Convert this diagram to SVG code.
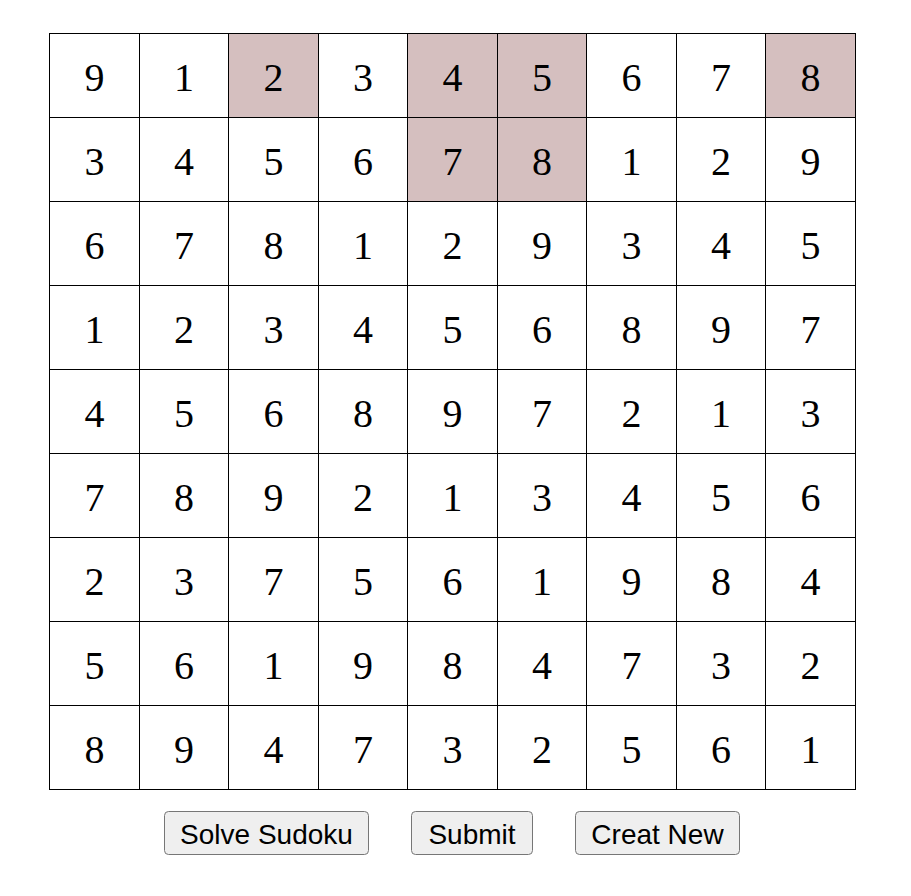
<svg xmlns="http://www.w3.org/2000/svg" width="911" height="896" viewBox="0 0 911 896">
<style>
.c{fill:#ffffff;stroke:#000000;stroke-width:1}
.h{fill:#d5bfbf;stroke:#000000;stroke-width:1}
.n{font-family:"Liberation Serif","Times New Roman",serif;font-size:40px;fill:#000000;text-anchor:middle}
.b{fill:#efefef;stroke:#767676;stroke-width:1}
.bt{font-family:"Liberation Sans",Arial,sans-serif;font-size:28px;fill:#000000;text-anchor:middle}
</style>
<rect width="911" height="896" fill="#ffffff"/>
<g id="grid">
<g id="r0">
<g id="c0-0"><rect class="c" x="49.5" y="33.5" width="90" height="84"/><text class="n" x="94.5" y="90.5">9</text></g>
<g id="c0-1"><rect class="c" x="139.5" y="33.5" width="89" height="84"/><text class="n" x="184" y="90.5">1</text></g>
<g id="c0-2"><rect class="h" x="228.5" y="33.5" width="90" height="84"/><text class="n" x="273.5" y="90.5">2</text></g>
<g id="c0-3"><rect class="c" x="318.5" y="33.5" width="89" height="84"/><text class="n" x="363" y="90.5">3</text></g>
<g id="c0-4"><rect class="h" x="407.5" y="33.5" width="90" height="84"/><text class="n" x="452.5" y="90.5">4</text></g>
<g id="c0-5"><rect class="h" x="497.5" y="33.5" width="89" height="84"/><text class="n" x="542" y="90.5">5</text></g>
<g id="c0-6"><rect class="c" x="586.5" y="33.5" width="90" height="84"/><text class="n" x="631.5" y="90.5">6</text></g>
<g id="c0-7"><rect class="c" x="676.5" y="33.5" width="89" height="84"/><text class="n" x="721" y="90.5">7</text></g>
<g id="c0-8"><rect class="h" x="765.5" y="33.5" width="90" height="84"/><text class="n" x="810.5" y="90.5">8</text></g>
</g>
<g id="r1">
<g id="c1-0"><rect class="c" x="49.5" y="117.5" width="90" height="84"/><text class="n" x="94.5" y="174.5">3</text></g>
<g id="c1-1"><rect class="c" x="139.5" y="117.5" width="89" height="84"/><text class="n" x="184" y="174.5">4</text></g>
<g id="c1-2"><rect class="c" x="228.5" y="117.5" width="90" height="84"/><text class="n" x="273.5" y="174.5">5</text></g>
<g id="c1-3"><rect class="c" x="318.5" y="117.5" width="89" height="84"/><text class="n" x="363" y="174.5">6</text></g>
<g id="c1-4"><rect class="h" x="407.5" y="117.5" width="90" height="84"/><text class="n" x="452.5" y="174.5">7</text></g>
<g id="c1-5"><rect class="h" x="497.5" y="117.5" width="89" height="84"/><text class="n" x="542" y="174.5">8</text></g>
<g id="c1-6"><rect class="c" x="586.5" y="117.5" width="90" height="84"/><text class="n" x="631.5" y="174.5">1</text></g>
<g id="c1-7"><rect class="c" x="676.5" y="117.5" width="89" height="84"/><text class="n" x="721" y="174.5">2</text></g>
<g id="c1-8"><rect class="c" x="765.5" y="117.5" width="90" height="84"/><text class="n" x="810.5" y="174.5">9</text></g>
</g>
<g id="r2">
<g id="c2-0"><rect class="c" x="49.5" y="201.5" width="90" height="84"/><text class="n" x="94.5" y="258.5">6</text></g>
<g id="c2-1"><rect class="c" x="139.5" y="201.5" width="89" height="84"/><text class="n" x="184" y="258.5">7</text></g>
<g id="c2-2"><rect class="c" x="228.5" y="201.5" width="90" height="84"/><text class="n" x="273.5" y="258.5">8</text></g>
<g id="c2-3"><rect class="c" x="318.5" y="201.5" width="89" height="84"/><text class="n" x="363" y="258.5">1</text></g>
<g id="c2-4"><rect class="c" x="407.5" y="201.5" width="90" height="84"/><text class="n" x="452.5" y="258.5">2</text></g>
<g id="c2-5"><rect class="c" x="497.5" y="201.5" width="89" height="84"/><text class="n" x="542" y="258.5">9</text></g>
<g id="c2-6"><rect class="c" x="586.5" y="201.5" width="90" height="84"/><text class="n" x="631.5" y="258.5">3</text></g>
<g id="c2-7"><rect class="c" x="676.5" y="201.5" width="89" height="84"/><text class="n" x="721" y="258.5">4</text></g>
<g id="c2-8"><rect class="c" x="765.5" y="201.5" width="90" height="84"/><text class="n" x="810.5" y="258.5">5</text></g>
</g>
<g id="r3">
<g id="c3-0"><rect class="c" x="49.5" y="285.5" width="90" height="84"/><text class="n" x="94.5" y="342.5">1</text></g>
<g id="c3-1"><rect class="c" x="139.5" y="285.5" width="89" height="84"/><text class="n" x="184" y="342.5">2</text></g>
<g id="c3-2"><rect class="c" x="228.5" y="285.5" width="90" height="84"/><text class="n" x="273.5" y="342.5">3</text></g>
<g id="c3-3"><rect class="c" x="318.5" y="285.5" width="89" height="84"/><text class="n" x="363" y="342.5">4</text></g>
<g id="c3-4"><rect class="c" x="407.5" y="285.5" width="90" height="84"/><text class="n" x="452.5" y="342.5">5</text></g>
<g id="c3-5"><rect class="c" x="497.5" y="285.5" width="89" height="84"/><text class="n" x="542" y="342.5">6</text></g>
<g id="c3-6"><rect class="c" x="586.5" y="285.5" width="90" height="84"/><text class="n" x="631.5" y="342.5">8</text></g>
<g id="c3-7"><rect class="c" x="676.5" y="285.5" width="89" height="84"/><text class="n" x="721" y="342.5">9</text></g>
<g id="c3-8"><rect class="c" x="765.5" y="285.5" width="90" height="84"/><text class="n" x="810.5" y="342.5">7</text></g>
</g>
<g id="r4">
<g id="c4-0"><rect class="c" x="49.5" y="369.5" width="90" height="84"/><text class="n" x="94.5" y="426.5">4</text></g>
<g id="c4-1"><rect class="c" x="139.5" y="369.5" width="89" height="84"/><text class="n" x="184" y="426.5">5</text></g>
<g id="c4-2"><rect class="c" x="228.5" y="369.5" width="90" height="84"/><text class="n" x="273.5" y="426.5">6</text></g>
<g id="c4-3"><rect class="c" x="318.5" y="369.5" width="89" height="84"/><text class="n" x="363" y="426.5">8</text></g>
<g id="c4-4"><rect class="c" x="407.5" y="369.5" width="90" height="84"/><text class="n" x="452.5" y="426.5">9</text></g>
<g id="c4-5"><rect class="c" x="497.5" y="369.5" width="89" height="84"/><text class="n" x="542" y="426.5">7</text></g>
<g id="c4-6"><rect class="c" x="586.5" y="369.5" width="90" height="84"/><text class="n" x="631.5" y="426.5">2</text></g>
<g id="c4-7"><rect class="c" x="676.5" y="369.5" width="89" height="84"/><text class="n" x="721" y="426.5">1</text></g>
<g id="c4-8"><rect class="c" x="765.5" y="369.5" width="90" height="84"/><text class="n" x="810.5" y="426.5">3</text></g>
</g>
<g id="r5">
<g id="c5-0"><rect class="c" x="49.5" y="453.5" width="90" height="84"/><text class="n" x="94.5" y="510.5">7</text></g>
<g id="c5-1"><rect class="c" x="139.5" y="453.5" width="89" height="84"/><text class="n" x="184" y="510.5">8</text></g>
<g id="c5-2"><rect class="c" x="228.5" y="453.5" width="90" height="84"/><text class="n" x="273.5" y="510.5">9</text></g>
<g id="c5-3"><rect class="c" x="318.5" y="453.5" width="89" height="84"/><text class="n" x="363" y="510.5">2</text></g>
<g id="c5-4"><rect class="c" x="407.5" y="453.5" width="90" height="84"/><text class="n" x="452.5" y="510.5">1</text></g>
<g id="c5-5"><rect class="c" x="497.5" y="453.5" width="89" height="84"/><text class="n" x="542" y="510.5">3</text></g>
<g id="c5-6"><rect class="c" x="586.5" y="453.5" width="90" height="84"/><text class="n" x="631.5" y="510.5">4</text></g>
<g id="c5-7"><rect class="c" x="676.5" y="453.5" width="89" height="84"/><text class="n" x="721" y="510.5">5</text></g>
<g id="c5-8"><rect class="c" x="765.5" y="453.5" width="90" height="84"/><text class="n" x="810.5" y="510.5">6</text></g>
</g>
<g id="r6">
<g id="c6-0"><rect class="c" x="49.5" y="537.5" width="90" height="84"/><text class="n" x="94.5" y="594.5">2</text></g>
<g id="c6-1"><rect class="c" x="139.5" y="537.5" width="89" height="84"/><text class="n" x="184" y="594.5">3</text></g>
<g id="c6-2"><rect class="c" x="228.5" y="537.5" width="90" height="84"/><text class="n" x="273.5" y="594.5">7</text></g>
<g id="c6-3"><rect class="c" x="318.5" y="537.5" width="89" height="84"/><text class="n" x="363" y="594.5">5</text></g>
<g id="c6-4"><rect class="c" x="407.5" y="537.5" width="90" height="84"/><text class="n" x="452.5" y="594.5">6</text></g>
<g id="c6-5"><rect class="c" x="497.5" y="537.5" width="89" height="84"/><text class="n" x="542" y="594.5">1</text></g>
<g id="c6-6"><rect class="c" x="586.5" y="537.5" width="90" height="84"/><text class="n" x="631.5" y="594.5">9</text></g>
<g id="c6-7"><rect class="c" x="676.5" y="537.5" width="89" height="84"/><text class="n" x="721" y="594.5">8</text></g>
<g id="c6-8"><rect class="c" x="765.5" y="537.5" width="90" height="84"/><text class="n" x="810.5" y="594.5">4</text></g>
</g>
<g id="r7">
<g id="c7-0"><rect class="c" x="49.5" y="621.5" width="90" height="84"/><text class="n" x="94.5" y="678.5">5</text></g>
<g id="c7-1"><rect class="c" x="139.5" y="621.5" width="89" height="84"/><text class="n" x="184" y="678.5">6</text></g>
<g id="c7-2"><rect class="c" x="228.5" y="621.5" width="90" height="84"/><text class="n" x="273.5" y="678.5">1</text></g>
<g id="c7-3"><rect class="c" x="318.5" y="621.5" width="89" height="84"/><text class="n" x="363" y="678.5">9</text></g>
<g id="c7-4"><rect class="c" x="407.5" y="621.5" width="90" height="84"/><text class="n" x="452.5" y="678.5">8</text></g>
<g id="c7-5"><rect class="c" x="497.5" y="621.5" width="89" height="84"/><text class="n" x="542" y="678.5">4</text></g>
<g id="c7-6"><rect class="c" x="586.5" y="621.5" width="90" height="84"/><text class="n" x="631.5" y="678.5">7</text></g>
<g id="c7-7"><rect class="c" x="676.5" y="621.5" width="89" height="84"/><text class="n" x="721" y="678.5">3</text></g>
<g id="c7-8"><rect class="c" x="765.5" y="621.5" width="90" height="84"/><text class="n" x="810.5" y="678.5">2</text></g>
</g>
<g id="r8">
<g id="c8-0"><rect class="c" x="49.5" y="705.5" width="90" height="84"/><text class="n" x="94.5" y="762.5">8</text></g>
<g id="c8-1"><rect class="c" x="139.5" y="705.5" width="89" height="84"/><text class="n" x="184" y="762.5">9</text></g>
<g id="c8-2"><rect class="c" x="228.5" y="705.5" width="90" height="84"/><text class="n" x="273.5" y="762.5">4</text></g>
<g id="c8-3"><rect class="c" x="318.5" y="705.5" width="89" height="84"/><text class="n" x="363" y="762.5">7</text></g>
<g id="c8-4"><rect class="c" x="407.5" y="705.5" width="90" height="84"/><text class="n" x="452.5" y="762.5">3</text></g>
<g id="c8-5"><rect class="c" x="497.5" y="705.5" width="89" height="84"/><text class="n" x="542" y="762.5">2</text></g>
<g id="c8-6"><rect class="c" x="586.5" y="705.5" width="90" height="84"/><text class="n" x="631.5" y="762.5">5</text></g>
<g id="c8-7"><rect class="c" x="676.5" y="705.5" width="89" height="84"/><text class="n" x="721" y="762.5">6</text></g>
<g id="c8-8"><rect class="c" x="765.5" y="705.5" width="90" height="84"/><text class="n" x="810.5" y="762.5">1</text></g>
</g>
</g>
<g id="connectors"></g>
<g id="btn-solve"><rect class="b" x="164.5" y="811.5" width="204" height="43" rx="4"/><text class="bt" x="266.5" y="843.5">Solve Sudoku</text></g>
<g id="btn-submit"><rect class="b" x="411.5" y="811.5" width="121" height="43" rx="4"/><text class="bt" x="472" y="843.5">Submit</text></g>
<g id="btn-new"><rect class="b" x="575.5" y="811.5" width="164" height="43" rx="4"/><text class="bt" x="657.5" y="843.5">Creat New</text></g>
</svg>
